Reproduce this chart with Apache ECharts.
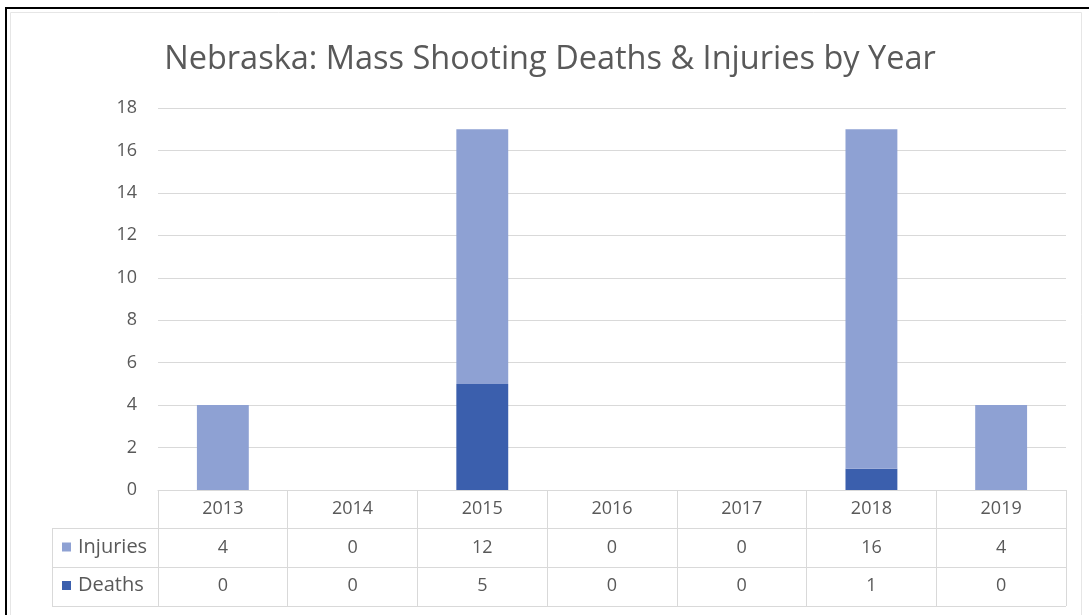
<!DOCTYPE html>
<html>
<head>
<meta charset="utf-8">
<script src="https://cdn.jsdelivr.net/npm/echarts@6/dist/echarts.min.js"></script>
<style>
    html, body { margin: 0; padding: 0; background: #fff; }
    #chart { width: 1089px; height: 615px; }
</style>
</head>
<body>
<div id="chart"></div>
<script>
    // chart data
    var years = ['2013', '2014', '2015', '2016', '2017', '2018', '2019'];
    var injuries = [4, 0, 12, 0, 0, 16, 4];
    var deaths = [0, 0, 5, 0, 0, 1, 0];
    var yTicks = { min: 0, max: 18, interval: 2 };

    var fontName = 'Open Sans';
    var textColor = '#595959';
    var lineColor = '#d9d9d9';
    var lightBlue = '#8ea1d3';
    var darkBlue = '#3b5fad';

    var chart = echarts.init(document.getElementById('chart'));

    var option = {
        backgroundColor: '#fff',
        animation: false,
        title: {
            text: 'Nebraska: Mass Shooting Deaths & Injuries by Year',
            left: 545,
            textAlign: 'center',
            top: 38,
            textStyle: {
                fontFamily: fontName,
                fontSize: 32.5,
                fontWeight: 'normal',
                color: textColor
            }
        },
        legend: {
            data: ['Injuries', 'Deaths'],
            orient: 'vertical',
            left: 57,
            top: 532,
            itemWidth: 9,
            itemHeight: 9,
            itemGap: 18.5,
            icon: 'rect',
            textStyle: { fontFamily: fontName, fontSize: 20, lineHeight: 20, color: textColor, padding: [0, 0, 0, 2] }
        },
        grid: {
            left: 158,
            right: 23,
            top: 108,
            bottom: 125,
            containLabel: false
        },
        xAxis: {
            type: 'category',
            data: years,
            axisLine: { show: true, lineStyle: { color: lineColor, width: 1 } },
            axisTick: { show: true, length: 116, interval: 0, lineStyle: { color: lineColor } },
            axisLabel: {
                interval: 0,
                margin: 0,
                formatter: function (value, idx) {
                    return '{t|' + value + '}\n{t|' + injuries[idx] + '}\n{t|' + deaths[idx] + '}';
                },
                rich: {
                    t: { fontFamily: fontName, fontSize: 18, color: textColor, lineHeight: 38.5 }
                }
            }
        },
        yAxis: {
            type: 'value',
            min: yTicks.min,
            max: yTicks.max,
            interval: yTicks.interval,
            axisLine: { show: false },
            axisTick: { show: false },
            axisLabel: { fontFamily: fontName, fontSize: 18, color: textColor, margin: 21 },
            splitLine: { lineStyle: { color: lineColor, width: 1 } }
        },
        series: [
            {
                name: 'Deaths',
                type: 'bar',
                stack: 'total',
                barWidth: '40%',
                itemStyle: { color: darkBlue },
                data: deaths
            },
            {
                name: 'Injuries',
                type: 'bar',
                stack: 'total',
                barWidth: '40%',
                itemStyle: { color: lightBlue },
                data: injuries
            }
        ],
        graphic: [
            // table lines below the axis
            { type: 'line', shape: { x1: 52, y1: 528.5, x2: 1066, y2: 528.5 }, style: { stroke: lineColor, lineWidth: 1 }, silent: true },
            { type: 'line', shape: { x1: 52, y1: 567.5, x2: 1066, y2: 567.5 }, style: { stroke: lineColor, lineWidth: 1 }, silent: true },
            { type: 'line', shape: { x1: 52, y1: 606.5, x2: 1066, y2: 606.5 }, style: { stroke: lineColor, lineWidth: 1 }, silent: true },
            { type: 'line', shape: { x1: 52.5, y1: 528, x2: 52.5, y2: 607 }, style: { stroke: lineColor, lineWidth: 1 }, silent: true },
            // frame
            { type: 'rect', shape: { x: 10.5, y: 12.5, width: 1071, height: 620 }, style: { fill: 'none', stroke: '#e6e6e6', lineWidth: 1 }, silent: true },
            { type: 'rect', shape: { x: 5, y: 7, width: 1084, height: 2 }, style: { fill: '#000' }, silent: true },
            { type: 'rect', shape: { x: 5, y: 7, width: 2, height: 608 }, style: { fill: '#000' }, silent: true }
        ]
    };

    chart.setOption(option);
</script>
</body>
</html>
